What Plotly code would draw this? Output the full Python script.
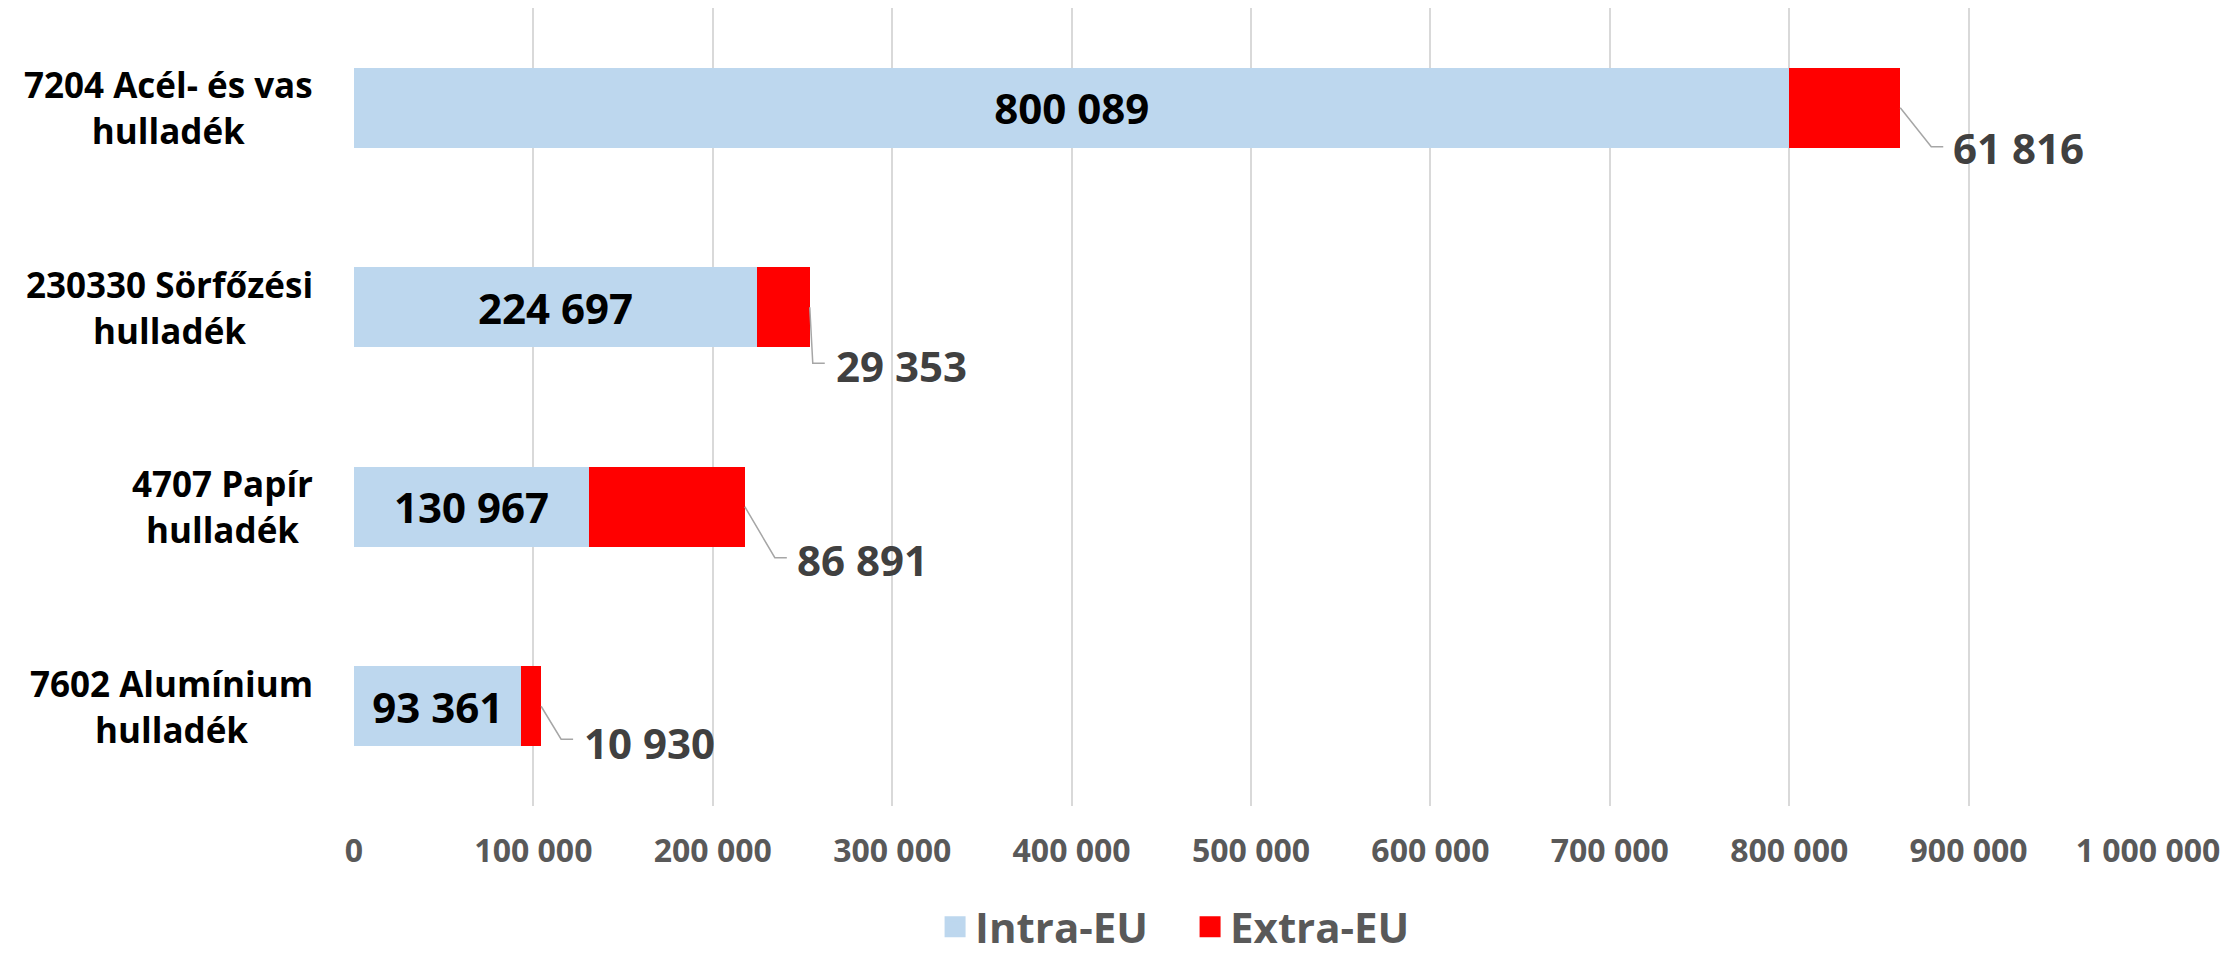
import plotly.graph_objects as go

# ---- data ----
categories = [
    "7204 Acél- és vas<br>hulladék",
    "230330 Sörfőzési<br>hulladék",
    "4707 Papír<br>hulladék",
    "7602 Alumínium<br>hulladék",
]
series_names = ["Intra-EU", "Extra-EU"]
intra_eu = [800089, 224697, 130967, 93361]
extra_eu = [61816, 29353, 86891, 10930]
x_ticks = [0, 100000, 200000, 300000, 400000, 500000, 600000, 700000, 800000, 900000, 1000000]

# ---- style (leader-line / label pixel offsets per category) ----
lead_dx = [31, 3, 30, 20]
lead_dy = [39, 56, 51, 33]
lab_dx = [52, 25, 51, 42]
lab_dy = [40, 58, 53, 36]

FONT = "Open Sans"
BLUE = "#BDD7EE"
RED = "#FF0000"

fig = go.Figure()
fig.add_trace(go.Bar(
    y=categories, x=intra_eu, orientation="h", name=series_names[0],
    marker=dict(color=BLUE, line=dict(width=0)),
    texttemplate="%{x:,d}", textposition="inside", insidetextanchor="middle",
    constraintext="none", showlegend=False, legendgroup="intra",
    textfont=dict(family=FONT, size=42, color="#000000", weight="bold"),
))
fig.add_trace(go.Bar(
    y=categories, x=extra_eu, orientation="h", name=series_names[1],
    marker=dict(color=RED, line=dict(width=0)),
    showlegend=False, legendgroup="extra",
))
# legend entries (larger square symbols)
for nm, col, grp in [(series_names[0], BLUE, "intra"), (series_names[1], RED, "extra")]:
    fig.add_trace(go.Scatter(
        x=[None], y=[None], mode="markers", name=nm, legendgroup=grp,
        marker=dict(symbol="square", size=16, color=col, line=dict(color=col, width=5)),
        showlegend=True,
    ))

annotations = []
shapes = []
for i, cat in enumerate(categories):
    total = intra_eu[i] + extra_eu[i]
    annotations.append(dict(
        xref="paper", yref="y", x=0, y=cat, xanchor="right", yanchor="middle",
        xshift=-40, text=cat, showarrow=False, align="center", borderpad=0,
        font=dict(family=FONT, size=35, color="#000000", weight="bold"),
    ))
    annotations.append(dict(
        xref="x", yref="y", x=total, y=cat, xanchor="left", yanchor="middle",
        xshift=lab_dx[i], yshift=-lab_dy[i], showarrow=False, borderpad=0,
        text=f"{extra_eu[i]:,}".replace(",", " "),
        font=dict(family=FONT, size=42, color="#404040", weight="bold"),
    ))
    shapes.append(dict(
        type="path", xref="x", yref="y", xsizemode="pixel", ysizemode="pixel",
        xanchor=total, yanchor=cat,
        path=f"M0,0 L{lead_dx[i]},{-lead_dy[i]} L{lead_dx[i] + 12},{-lead_dy[i]}",
        line=dict(color="#A6A6A6", width=1.5),
    ))

fig.update_layout(
    width=2232, height=961,
    margin=dict(l=346, r=92, t=0, b=163),
    paper_bgcolor="white", plot_bgcolor="white",
    barmode="stack", bargap=0.6,
    separators=", ",
    showlegend=True,
    legend=dict(
        orientation="h", x=0.3239, xanchor="left", y=-0.1516, yanchor="middle",
        font=dict(family=FONT, size=42, color="#595959", weight="bold"),
        traceorder="normal", entrywidth=210, entrywidthmode="pixels",
    ),
    xaxis=dict(
        range=[0, 1000000], tickvals=x_ticks, tickformat=",d",
        showgrid=True, gridcolor="#D9D9D9", gridwidth=2,
        zeroline=False, showline=False, ticks="",
        tickfont=dict(family=FONT, size=32, color="#595959", weight="bold"),
        ticklabelstandoff=23,
    ),
    yaxis=dict(
        categoryorder="array", categoryarray=categories, autorange="reversed",
        showticklabels=False, showgrid=False, zeroline=False, showline=False,
    ),
    annotations=annotations,
    shapes=shapes,
)

fig.write_html("out.html")
